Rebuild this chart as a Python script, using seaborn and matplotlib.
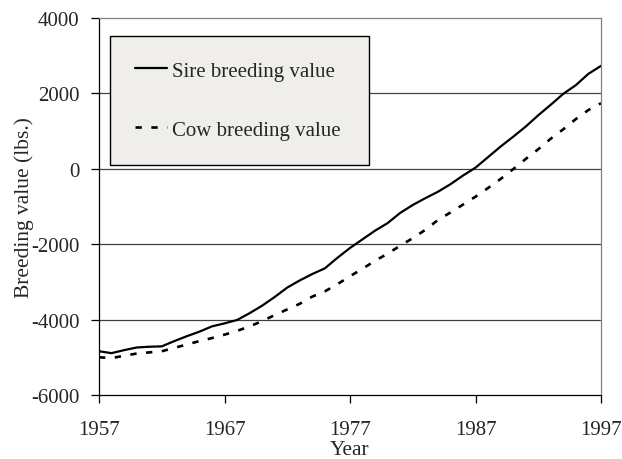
import matplotlib
matplotlib.use("Agg")
import matplotlib.pyplot as plt
import seaborn as sns
import pandas as pd

years = list(range(1957, 1998))
sire_bv = [-4840, -4890, -4810, -4740, -4720, -4710, -4570, -4440, -4320, -4180,
           -4100, -4010, -3830, -3630, -3400, -3150, -2960, -2790, -2640, -2360,
           -2100, -1870, -1640, -1440, -1170, -960, -780, -610, -410, -180,
           30, 310, 590, 850, 1120, 1420, 1700, 1990, 2220, 2520, 2730]
cow_bv = [-5000, -5020, -4960, -4900, -4870, -4840, -4750, -4660, -4570, -4490,
          -4400, -4300, -4180, -4040, -3880, -3730, -3580, -3390, -3250, -3060,
          -2850, -2650, -2440, -2250, -2040, -1840, -1620, -1360, -1160, -950,
          -740, -510, -270, -10, 260, 520, 800, 1050, 1320, 1560, 1740]
series_labels = ["Sire breeding value", "Cow breeding value"]
x_ticks = [1957, 1967, 1977, 1987, 1997]
y_ticks = [-6000, -4000, -2000, 0, 2000, 4000]

sns.set_style("white")
plt.rcParams['font.family'] = ['Liberation Serif', 'DejaVu Serif']
plt.rcParams['axes.unicode_minus'] = False

df = pd.DataFrame({"Year": years, "sire": sire_bv, "cow": cow_bv})

fig = plt.figure(figsize=(6.22, 4.60), dpi=100)
ax = fig.add_axes([99/622, 1-396/460, 502/622, 377/460])

for y in y_ticks[1:-1]:
    ax.axhline(y, color="#404040", lw=0.9, zorder=0)

sns.lineplot(data=df, x="Year", y="sire", ax=ax, color="black", lw=1.6,
             label=series_labels[0])
sns.lineplot(data=df, x="Year", y="cow", ax=ax, color="black", lw=1.9,
             linestyle=(0, (2.4, 3.6)), label=series_labels[1])

ax.set_xlim(1957, 1997)
ax.set_ylim(-6000, 4000)
ax.set_xticks(x_ticks)
ax.set_yticks(y_ticks)
ax.tick_params(axis="both", labelsize=15, direction="out", length=6, width=0.9,
               color="black")
ax.tick_params(axis="y", pad=8, left=True)
ax.tick_params(axis="x", pad=12, bottom=True)
ax.set_xlabel("Year", fontsize=15.5, labelpad=1)
ax.set_ylabel("Breeding value (lbs.)", fontsize=15.5, labelpad=-2)

for side in ["left", "bottom"]:
    ax.spines[side].set_color("black")
    ax.spines[side].set_linewidth(0.9)
for side in ["top", "right"]:
    ax.spines[side].set_color("#808080")
    ax.spines[side].set_linewidth(0.9)

leg = ax.legend(loc="upper left", bbox_to_anchor=(11/502, 0.623, 259/502, 359/377 - 0.623),
                mode="expand", borderaxespad=0, fontsize=15, frameon=True,
                fancybox=False, borderpad=1.2, labelspacing=1.9,
                handlelength=1.55, handletextpad=0.25)
frame = leg.get_frame()
frame.set_facecolor("#efeeea")
frame.set_edgecolor("black")
frame.set_linewidth(1.0)
frame.set_alpha(1)

fig.savefig("out.png", dpi=100)
